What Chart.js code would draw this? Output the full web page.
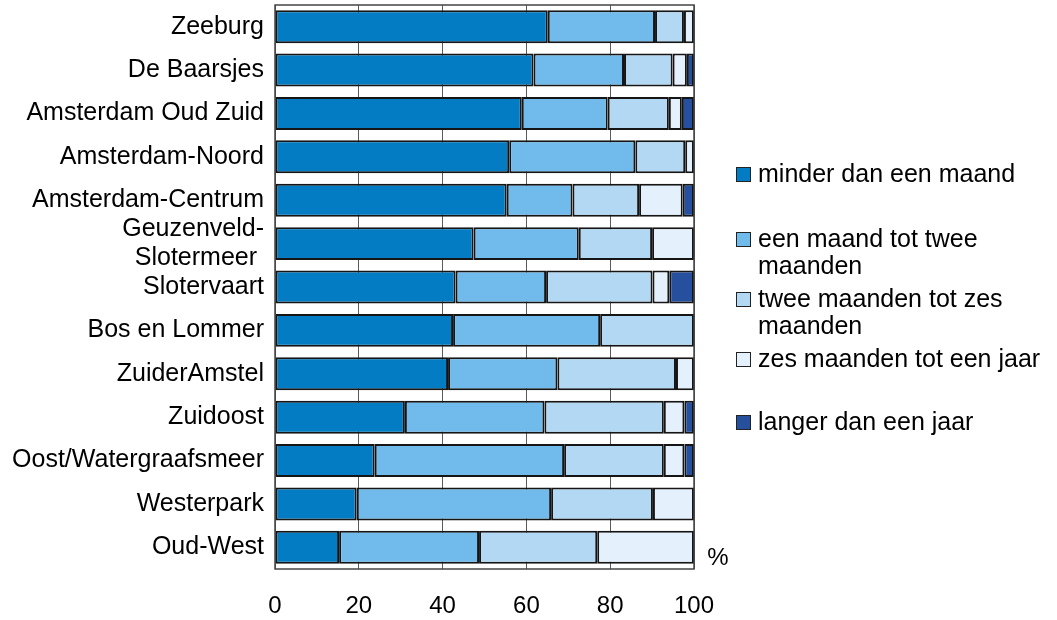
<!DOCTYPE html>
<html>
<head>
<meta charset="utf-8">
<script src="https://cdn.jsdelivr.net/npm/chart.js@4"></script>
<style>
  body { margin: 0; background: #fff; font-family: 'Liberation Sans', Arial, sans-serif; }
  #wrap { position: relative; width: 1057px; height: 620px; }
  .legend { position: absolute; left: 736px; top: 0; font-size: 25px; color: #000; }
  .item { position: absolute; left: 0; white-space: nowrap; line-height: 27px; }
  .item .box { position: absolute; left: 0; top: 7px; width: 13px; height: 13px; border: 1px solid #222; }
  .item .txt { position: absolute; left: 22px; top: 0; }
</style>
</head>
<body>
<div id="wrap">
  <canvas id="chart"></canvas>
  <div class="legend" id="legend"></div>
</div>
<script>
// Duration of unemployment per district, share in %
const districts = [
  'Zeeburg', 'De Baarsjes', 'Amsterdam Oud Zuid', 'Amsterdam-Noord', 'Amsterdam-Centrum',
  ['Geuzenveld-', 'Slotermeer '], 'Slotervaart', 'Bos en Lommer', 'ZuiderAmstel', 'Zuidoost',
  'Oost/Watergraafsmeer', 'Westerpark', 'Oud-West'
];

const seriesNames = [
  'minder dan een maand',
  'een maand tot twee maanden',
  'twee maanden tot zes maanden',
  'zes maanden tot een jaar',
  'langer dan een jaar'
];

const minderDanMaand   = [65.1, 61.7, 58.9, 55.9, 55.3, 47.4, 43.1, 42.5, 41.3, 31.0, 23.8, 19.5, 15.3];
const maandTotTwee     = [25.6, 21.6, 20.5, 30.1, 15.7, 25.1, 21.6, 35.1, 26.1, 33.3, 45.2, 46.4, 33.4];
const tweeTotZes       = [6.9, 11.6, 14.6, 11.9, 15.9, 17.5, 25.4, 22.4, 28.3, 28.5, 23.8, 24.3, 28.2];
const zesTotJaar       = [2.4, 3.4, 3.1, 2.1, 10.4, 10.0, 4.0, 0, 4.3, 4.9, 4.9, 9.8, 23.1];
const langerDanJaar    = [0, 1.7, 2.9, 0, 2.7, 0, 5.9, 0, 0, 2.3, 2.3, 0, 0];

const xTicks = [0, 20, 40, 60, 80, 100];

const colors = ['#037cc4', '#71bbec', '#b3d8f4', '#e4f0fb', '#264f9d'];
const seriesData = [minderDanMaand, maandTotTwee, tweeTotZes, zesTotJaar, langerDanJaar];

const FONT = "'Liberation Sans', Arial, sans-serif";

// Frame around the plot area plus the "%" unit next to the axis
const frame = {
  id: 'frame',
  afterDatasetsDraw(chart) {
    const { ctx, chartArea: a } = chart;
    ctx.save();
    ctx.strokeStyle = '#444';
    ctx.lineWidth = 1.5;
    ctx.strokeRect(a.left, a.top, a.right - a.left, a.bottom - a.top);
    ctx.fillStyle = '#000';
    ctx.font = '24px ' + FONT;
    ctx.textAlign = 'center';
    ctx.textBaseline = 'middle';
    ctx.fillText('%', a.right + 24, a.bottom - 11);
    ctx.restore();
  }
};

new Chart(document.getElementById('chart'), {
  type: 'bar',
  data: {
    labels: districts,
    datasets: seriesData.map((d, i) => ({
      label: seriesNames[i],
      data: d,
      backgroundColor: colors[i],
      borderColor: '#151515',
      borderWidth: 2,
      borderSkipped: false,
      barPercentage: 0.76,
      categoryPercentage: 1
    }))
  },
  options: {
    indexAxis: 'y',
    responsive: true,
    maintainAspectRatio: false,
    animation: false,
    layout: { padding: { top: 5, right: 363, bottom: 0, left: 0 } },
    plugins: { legend: { display: false }, tooltip: { enabled: false } },
    scales: {
      x: {
        stacked: true,
        min: 0,
        max: 100,
        afterBuildTicks(scale) { scale.ticks = xTicks.map(v => ({ value: v })); },
        afterFit(scale) { scale.height = 51; },
        grid: { color: '#5a5a5a', lineWidth: 1, drawTicks: false },
        border: { display: false },
        ticks: { color: '#000', padding: 23, font: { family: FONT, size: 24 } }
      },
      y: {
        stacked: true,
        afterFit(scale) {
          scale.width = 275;
          scale.paddingTop = 0;
          scale.paddingBottom = 0;
        },
        grid: { display: false, drawTicks: false },
        border: { display: false },
        ticks: { color: '#000', padding: 11, autoSkip: false, font: { family: FONT, size: 25, lineHeight: 1.16 } }
      }
    }
  },
  plugins: [frame]
});

// Legend on the right, long names wrap onto a second line
const legendRows = [
  { top: 160, text: 'minder dan een maand' },
  { top: 225, text: 'een maand tot twee<br>maanden' },
  { top: 285, text: 'twee maanden tot zes<br>maanden' },
  { top: 345, text: 'zes maanden tot een jaar' },
  { top: 408, text: 'langer dan een jaar' }
];
const legend = document.getElementById('legend');
legendRows.forEach((row, i) => {
  const item = document.createElement('div');
  item.className = 'item';
  item.style.top = row.top + 'px';
  item.innerHTML = `<span class="box" style="background:${colors[i]}"></span><span class="txt">${row.text}</span>`;
  legend.appendChild(item);
});
</script>
</body>
</html>
